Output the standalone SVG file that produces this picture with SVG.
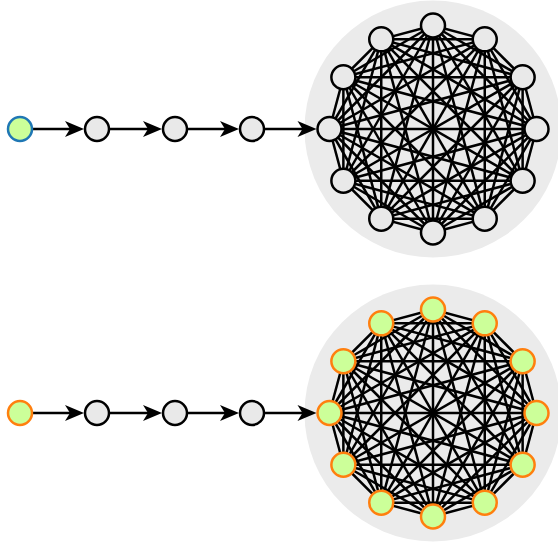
<svg xmlns="http://www.w3.org/2000/svg" xmlns:xlink="http://www.w3.org/1999/xlink" width="558" height="542" viewBox="0 0 558 542">
<style>
.bg{fill:#ebebeb;stroke:none}
.n{fill:#e9e9e9;stroke:#000;stroke-width:2.5}
.sb{fill:#ccff99;stroke:#1f77b4;stroke-width:2.5}
.so{fill:#ccff99;stroke:#ff7f0e;stroke-width:2.5}
.e line{stroke:#000;stroke-width:2.5}
.a{stroke:#000;stroke-width:2.5;marker-end:url(#arr)}
</style>
<defs>
<marker id="arr" markerUnits="userSpaceOnUse" markerWidth="22" markerHeight="18" refX="10" refY="8" orient="auto" overflow="visible">
<path d="M0,0 L19,8 L0,16 L5,8 Z" fill="#000"/>
</marker>
<g id="clique" class="e">
<line x1="433" y1="25.5" x2="484.75" y2="39.37"/><line x1="433" y1="25.5" x2="522.63" y2="77.25"/><line x1="433" y1="25.5" x2="536.5" y2="129"/><line x1="433" y1="25.5" x2="522.63" y2="180.75"/><line x1="433" y1="25.5" x2="484.75" y2="218.63"/><line x1="433" y1="25.5" x2="433" y2="232.5"/><line x1="433" y1="25.5" x2="381.25" y2="218.63"/><line x1="433" y1="25.5" x2="343.37" y2="180.75"/><line x1="433" y1="25.5" x2="329.5" y2="129"/><line x1="433" y1="25.5" x2="343.37" y2="77.25"/><line x1="433" y1="25.5" x2="381.25" y2="39.37"/>
<line x1="484.75" y1="39.37" x2="522.63" y2="77.25"/><line x1="484.75" y1="39.37" x2="536.5" y2="129"/><line x1="484.75" y1="39.37" x2="522.63" y2="180.75"/><line x1="484.75" y1="39.37" x2="484.75" y2="218.63"/><line x1="484.75" y1="39.37" x2="433" y2="232.5"/><line x1="484.75" y1="39.37" x2="381.25" y2="218.63"/><line x1="484.75" y1="39.37" x2="343.37" y2="180.75"/><line x1="484.75" y1="39.37" x2="329.5" y2="129"/><line x1="484.75" y1="39.37" x2="343.37" y2="77.25"/><line x1="484.75" y1="39.37" x2="381.25" y2="39.37"/>
<line x1="522.63" y1="77.25" x2="536.5" y2="129"/><line x1="522.63" y1="77.25" x2="522.63" y2="180.75"/><line x1="522.63" y1="77.25" x2="484.75" y2="218.63"/><line x1="522.63" y1="77.25" x2="433" y2="232.5"/><line x1="522.63" y1="77.25" x2="381.25" y2="218.63"/><line x1="522.63" y1="77.25" x2="343.37" y2="180.75"/><line x1="522.63" y1="77.25" x2="329.5" y2="129"/><line x1="522.63" y1="77.25" x2="343.37" y2="77.25"/><line x1="522.63" y1="77.25" x2="381.25" y2="39.37"/>
<line x1="536.5" y1="129" x2="522.63" y2="180.75"/><line x1="536.5" y1="129" x2="484.75" y2="218.63"/><line x1="536.5" y1="129" x2="433" y2="232.5"/><line x1="536.5" y1="129" x2="381.25" y2="218.63"/><line x1="536.5" y1="129" x2="343.37" y2="180.75"/><line x1="536.5" y1="129" x2="329.5" y2="129"/><line x1="536.5" y1="129" x2="343.37" y2="77.25"/><line x1="536.5" y1="129" x2="381.25" y2="39.37"/>
<line x1="522.63" y1="180.75" x2="484.75" y2="218.63"/><line x1="522.63" y1="180.75" x2="433" y2="232.5"/><line x1="522.63" y1="180.75" x2="381.25" y2="218.63"/><line x1="522.63" y1="180.75" x2="343.37" y2="180.75"/><line x1="522.63" y1="180.75" x2="329.5" y2="129"/><line x1="522.63" y1="180.75" x2="343.37" y2="77.25"/><line x1="522.63" y1="180.75" x2="381.25" y2="39.37"/>
<line x1="484.75" y1="218.63" x2="433" y2="232.5"/><line x1="484.75" y1="218.63" x2="381.25" y2="218.63"/><line x1="484.75" y1="218.63" x2="343.37" y2="180.75"/><line x1="484.75" y1="218.63" x2="329.5" y2="129"/><line x1="484.75" y1="218.63" x2="343.37" y2="77.25"/><line x1="484.75" y1="218.63" x2="381.25" y2="39.37"/>
<line x1="433" y1="232.5" x2="381.25" y2="218.63"/><line x1="433" y1="232.5" x2="343.37" y2="180.75"/><line x1="433" y1="232.5" x2="329.5" y2="129"/><line x1="433" y1="232.5" x2="343.37" y2="77.25"/><line x1="433" y1="232.5" x2="381.25" y2="39.37"/>
<line x1="381.25" y1="218.63" x2="343.37" y2="180.75"/><line x1="381.25" y1="218.63" x2="329.5" y2="129"/><line x1="381.25" y1="218.63" x2="343.37" y2="77.25"/><line x1="381.25" y1="218.63" x2="381.25" y2="39.37"/>
<line x1="343.37" y1="180.75" x2="329.5" y2="129"/><line x1="343.37" y1="180.75" x2="343.37" y2="77.25"/><line x1="343.37" y1="180.75" x2="381.25" y2="39.37"/>
<line x1="329.5" y1="129" x2="343.37" y2="77.25"/><line x1="329.5" y1="129" x2="381.25" y2="39.37"/>
<line x1="343.37" y1="77.25" x2="381.25" y2="39.37"/>
</g>
</defs>

<circle class="bg" cx="433" cy="129" r="128.5"/>
<circle class="bg" cx="433" cy="413" r="128.5"/>

<g id="connectors">
<line class="a" x1="33" y1="129" x2="75" y2="129"/>
<line class="a" x1="110" y1="129" x2="153" y2="129"/>
<line class="a" x1="188" y1="129" x2="230" y2="129"/>
<line class="a" x1="265" y1="129" x2="307.5" y2="129"/>
<line class="a" x1="33" y1="413" x2="75" y2="413"/>
<line class="a" x1="110" y1="413" x2="153" y2="413"/>
<line class="a" x1="188" y1="413" x2="230" y2="413"/>
<line class="a" x1="265" y1="413" x2="307.5" y2="413"/>
<use xlink:href="#clique"/>
<use xlink:href="#clique" transform="translate(0,284)"/>
</g>

<g id="top-chain">
<g id="t0"><circle class="sb" cx="20" cy="129" r="12"/></g>
<g id="t1"><circle class="n" cx="97" cy="129" r="12"/></g>
<g id="t2"><circle class="n" cx="175" cy="129" r="12"/></g>
<g id="t3"><circle class="n" cx="252" cy="129" r="12"/></g>
</g>
<g id="top-clique">
<g id="tc0"><circle class="n" cx="433" cy="25.5" r="12"/></g>
<g id="tc1"><circle class="n" cx="484.75" cy="39.37" r="12"/></g>
<g id="tc2"><circle class="n" cx="522.63" cy="77.25" r="12"/></g>
<g id="tc3"><circle class="n" cx="536.5" cy="129" r="12"/></g>
<g id="tc4"><circle class="n" cx="522.63" cy="180.75" r="12"/></g>
<g id="tc5"><circle class="n" cx="484.75" cy="218.63" r="12"/></g>
<g id="tc6"><circle class="n" cx="433" cy="232.5" r="12"/></g>
<g id="tc7"><circle class="n" cx="381.25" cy="218.63" r="12"/></g>
<g id="tc8"><circle class="n" cx="343.37" cy="180.75" r="12"/></g>
<g id="tc9"><circle class="n" cx="329.5" cy="129" r="12"/></g>
<g id="tc10"><circle class="n" cx="343.37" cy="77.25" r="12"/></g>
<g id="tc11"><circle class="n" cx="381.25" cy="39.37" r="12"/></g>
</g>

<g id="bottom-chain">
<g id="b0"><circle class="so" cx="20" cy="413" r="12"/></g>
<g id="b1"><circle class="n" cx="97" cy="413" r="12"/></g>
<g id="b2"><circle class="n" cx="175" cy="413" r="12"/></g>
<g id="b3"><circle class="n" cx="252" cy="413" r="12"/></g>
</g>
<g id="bottom-clique">
<g id="bc0"><circle class="so" cx="433" cy="309.5" r="12"/></g>
<g id="bc1"><circle class="so" cx="484.75" cy="323.37" r="12"/></g>
<g id="bc2"><circle class="so" cx="522.63" cy="361.25" r="12"/></g>
<g id="bc3"><circle class="so" cx="536.5" cy="413" r="12"/></g>
<g id="bc4"><circle class="so" cx="522.63" cy="464.75" r="12"/></g>
<g id="bc5"><circle class="so" cx="484.75" cy="502.63" r="12"/></g>
<g id="bc6"><circle class="so" cx="433" cy="516.5" r="12"/></g>
<g id="bc7"><circle class="so" cx="381.25" cy="502.63" r="12"/></g>
<g id="bc8"><circle class="so" cx="343.37" cy="464.75" r="12"/></g>
<g id="bc9"><circle class="so" cx="329.5" cy="413" r="12"/></g>
<g id="bc10"><circle class="so" cx="343.37" cy="361.25" r="12"/></g>
<g id="bc11"><circle class="so" cx="381.25" cy="323.37" r="12"/></g>
</g>
</svg>
